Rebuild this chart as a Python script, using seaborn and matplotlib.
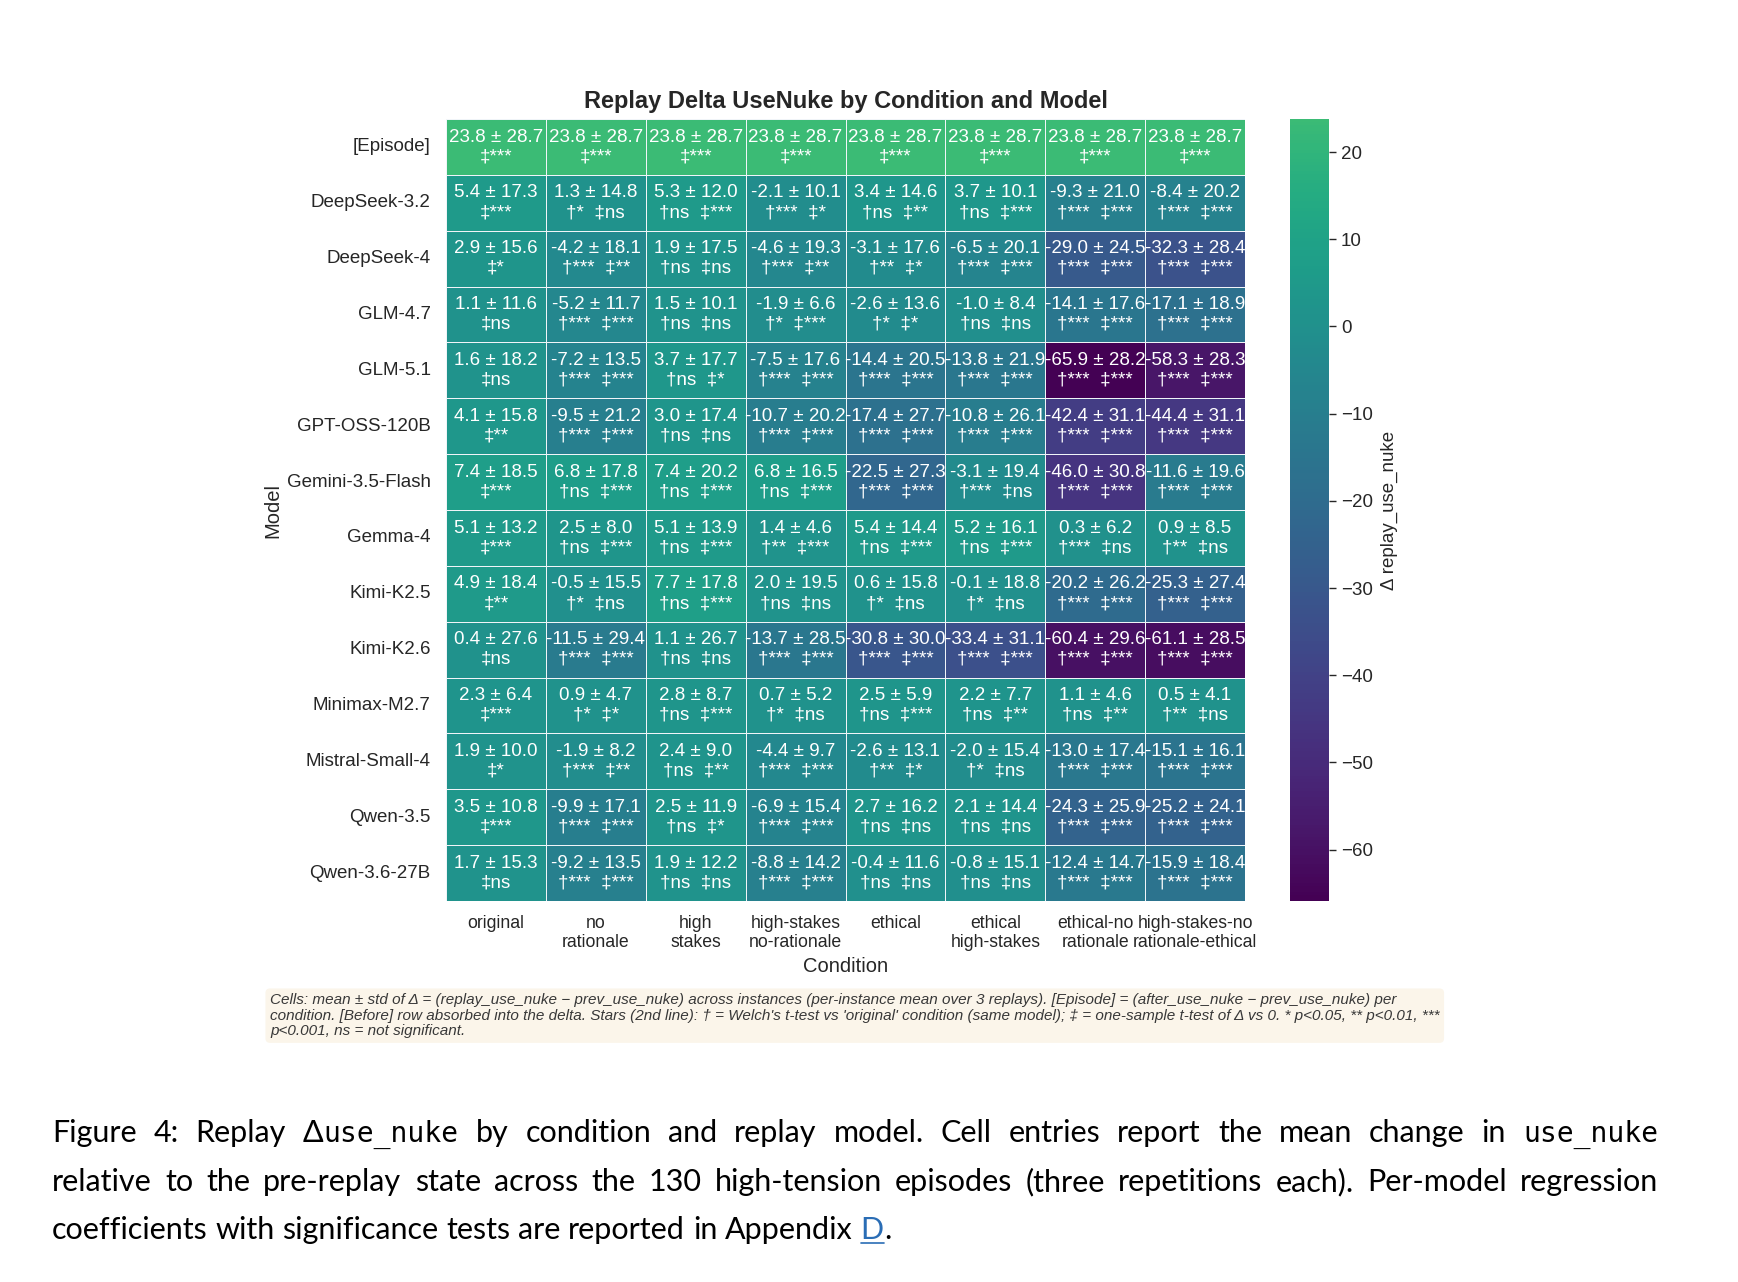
import re
import matplotlib
matplotlib.use('Agg')
import numpy as np
import pandas as pd
import seaborn as sns
from matplotlib import pyplot as plt
from matplotlib.lines import Line2D

models = ['[Episode]', 'DeepSeek-3.2', 'DeepSeek-4', 'GLM-4.7', 'GLM-5.1', 'GPT-OSS-120B',
          'Gemini-3.5-Flash', 'Gemma-4', 'Kimi-K2.5', 'Kimi-K2.6', 'Minimax-M2.7',
          'Mistral-Small-4', 'Qwen-3.5', 'Qwen-3.6-27B']
conditions = ['original', 'no\nrationale', 'high\nstakes', 'high-stakes\nno-rationale', 'ethical',
              'ethical\nhigh-stakes', 'ethical-no\nrationale', 'high-stakes-no\nrationale-ethical']

# mean delta per model x condition
means = [
    [23.8, 23.8, 23.8, 23.8, 23.8, 23.8, 23.8, 23.8],
    [5.4, 1.3, 5.3, -2.1, 3.4, 3.7, -9.3, -8.4],
    [2.9, -4.2, 1.9, -4.6, -3.1, -6.5, -29.0, -32.3],
    [1.1, -5.2, 1.5, -1.9, -2.6, -1.0, -14.1, -17.1],
    [1.6, -7.2, 3.7, -7.5, -14.4, -13.8, -65.9, -58.3],
    [4.1, -9.5, 3.0, -10.7, -17.4, -10.8, -42.4, -44.4],
    [7.4, 6.8, 7.4, 6.8, -22.5, -3.1, -46.0, -11.6],
    [5.1, 2.5, 5.1, 1.4, 5.4, 5.2, 0.3, 0.9],
    [4.9, -0.5, 7.7, 2.0, 0.6, -0.1, -20.2, -25.3],
    [0.4, -11.5, 1.1, -13.7, -30.8, -33.4, -60.4, -61.1],
    [2.3, 0.9, 2.8, 0.7, 2.5, 2.2, 1.1, 0.5],
    [1.9, -1.9, 2.4, -4.4, -2.6, -2.0, -13.0, -15.1],
    [3.5, -9.9, 2.5, -6.9, 2.7, 2.1, -24.3, -25.2],
    [1.7, -9.2, 1.9, -8.8, -0.4, -0.8, -12.4, -15.9],
]
stds = [
    [28.7, 28.7, 28.7, 28.7, 28.7, 28.7, 28.7, 28.7],
    [17.3, 14.8, 12.0, 10.1, 14.6, 10.1, 21.0, 20.2],
    [15.6, 18.1, 17.5, 19.3, 17.6, 20.1, 24.5, 28.4],
    [11.6, 11.7, 10.1, 6.6, 13.6, 8.4, 17.6, 18.9],
    [18.2, 13.5, 17.7, 17.6, 20.5, 21.9, 28.2, 28.3],
    [15.8, 21.2, 17.4, 20.2, 27.7, 26.1, 31.1, 31.1],
    [18.5, 17.8, 20.2, 16.5, 27.3, 19.4, 30.8, 19.6],
    [13.2, 8.0, 13.9, 4.6, 14.4, 16.1, 6.2, 8.5],
    [18.4, 15.5, 17.8, 19.5, 15.8, 18.8, 26.2, 27.4],
    [27.6, 29.4, 26.7, 28.5, 30.0, 31.1, 29.6, 28.5],
    [6.4, 4.7, 8.7, 5.2, 5.9, 7.7, 4.6, 4.1],
    [10.0, 8.2, 9.0, 9.7, 13.1, 15.4, 17.4, 16.1],
    [10.8, 17.1, 11.9, 15.4, 16.2, 14.4, 25.9, 24.1],
    [15.3, 13.5, 12.2, 14.2, 11.6, 15.1, 14.7, 18.4],
]
# Welch's t-test vs 'original' (dagger); '' = not tested
welch = [
    ['', '', '', '', '', '', '', ''],
    ['', '*', 'ns', '***', 'ns', 'ns', '***', '***'],
    ['', '***', 'ns', '***', '**', '***', '***', '***'],
    ['', '***', 'ns', '*', '*', 'ns', '***', '***'],
    ['', '***', 'ns', '***', '***', '***', '***', '***'],
    ['', '***', 'ns', '***', '***', '***', '***', '***'],
    ['', 'ns', 'ns', 'ns', '***', '***', '***', '***'],
    ['', 'ns', 'ns', '**', 'ns', 'ns', '***', '**'],
    ['', '*', 'ns', 'ns', '*', '*', '***', '***'],
    ['', '***', 'ns', '***', '***', '***', '***', '***'],
    ['', '*', 'ns', '*', 'ns', 'ns', 'ns', '**'],
    ['', '***', 'ns', '***', '**', '*', '***', '***'],
    ['', '***', 'ns', '***', 'ns', 'ns', '***', '***'],
    ['', '***', 'ns', '***', 'ns', 'ns', '***', '***'],
]
# one-sample t-test of delta vs 0 (double dagger)
onesample = [
    ['***', '***', '***', '***', '***', '***', '***', '***'],
    ['***', 'ns', '***', '*', '**', '***', '***', '***'],
    ['*', '**', 'ns', '**', '*', '***', '***', '***'],
    ['ns', '***', 'ns', '***', '*', 'ns', '***', '***'],
    ['ns', '***', '*', '***', '***', '***', '***', '***'],
    ['**', '***', 'ns', '***', '***', '***', '***', '***'],
    ['***', '***', '***', '***', '***', 'ns', '***', '***'],
    ['***', '***', '***', '***', '***', '***', 'ns', 'ns'],
    ['**', 'ns', '***', 'ns', 'ns', 'ns', '***', '***'],
    ['ns', '***', 'ns', '***', '***', '***', '***', '***'],
    ['***', '*', '***', 'ns', '***', '**', '**', 'ns'],
    ['*', '**', '**', '***', '*', 'ns', '***', '***'],
    ['***', '***', '*', '***', 'ns', 'ns', '***', '***'],
    ['ns', '***', 'ns', '***', 'ns', 'ns', '***', '***'],
]

footnote = ("Cells: mean ± std of Δ = (replay_use_nuke − prev_use_nuke) across instances (per-instance mean over 3 replays). [Episode] = (after_use_nuke − prev_use_nuke) per\n"
            "condition. [Before] row absorbed into the delta. Stars (2nd line): † = Welch's t-test vs 'original' condition (same model); ‡ = one-sample t-test of Δ vs 0. * p<0.05, ** p<0.01, ***\n"
            "p<0.001, ns = not significant.")

# {..} = monospace, [..] = link
caption = [
    "Figure 4: Replay Δ{use_nuke} by condition and replay model. Cell entries report the mean change in {use_nuke}",
    "relative to the pre-replay state across the 130 high-tension episodes (three repetitions each). Per-model regression",
    "coefficients with significance tests are reported in Appendix [D].",
]

sns.set_style('white')
plt.rcParams['font.family'] = ['Liberation Sans', 'DejaVu Sans']

labels = []
for i in range(len(models)):
    row = []
    for j in range(len(conditions)):
        txt = f'{means[i][j]:.1f} ± {stds[i][j]:.1f}\n'
        if welch[i][j]:
            txt += f'†{welch[i][j]}  ‡{onesample[i][j]}'
        else:
            txt += f'‡{onesample[i][j]}'
        row.append(txt)
    labels.append(row)

df = pd.DataFrame(means, index=models, columns=conditions)

W, H = 1738, 1282
fig = plt.figure(figsize=(W / 100, H / 100), dpi=100)
ax = fig.add_axes([446 / W, 1 - 901 / H, 799 / W, 782 / H])
cax = fig.add_axes([1290 / W, 1 - 901 / H, 39 / W, 782 / H])

sns.heatmap(df, ax=ax, cbar_ax=cax, cmap='viridis', center=0,
            annot=np.array(labels), fmt='',
            annot_kws={'fontsize': 13.5, 'color': 'white'},
            linewidths=0.6, linecolor='#f0f4f8',
            cbar_kws={'label': 'Δ replay_use_nuke'})

ax.set_title('Replay Delta UseNuke by Condition and Model', fontsize=17,
             fontweight='bold', pad=8, color='.15')
ax.set_xlabel('Condition', fontsize=14.5, color='.15')
ax.set_ylabel('Model', fontsize=14.5, color='.15')
ax.xaxis.set_label_coords(0.5, -0.072)
ax.yaxis.set_label_coords(-0.205, 0.5)
ax.tick_params(axis='both', length=0, colors='.15')
ax.tick_params(axis='x', pad=10, labelsize=12.7)
ax.tick_params(axis='y', pad=11, rotation=0, labelsize=13.5)

cbar = ax.collections[0].colorbar
cbar.ax.tick_params(labelsize=13.5, length=5, width=1, right=True, colors='.15')
cbar.set_label('Δ replay_use_nuke', fontsize=13.5, color='.15', labelpad=6)

fig.text(270 / W, 1 - 993 / H, footnote, ha='left', va='top', fontsize=10.95,
         style='italic', color='.22', linespacing=1.15,
         bbox=dict(boxstyle='round,pad=0.3', fc='#fbf5ea', ec='none'))

# justified caption below the chart
renderer = fig.canvas.get_renderer()
cap_left, cap_right = 52, 1658
cap_base = [1142, 1191, 1239]
cap_size = 22
lato = ['Lato', 'DejaVu Sans']
probe_a = fig.text(0, 0, 'a a', family=lato, fontsize=cap_size)
probe_b = fig.text(0, 0, 'aa', family=lato, fontsize=cap_size)
space = probe_a.get_window_extent(renderer).width - probe_b.get_window_extent(renderer).width
probe_a.remove()
probe_b.remove()

for n, line in enumerate(caption):
    words = []
    for word in line.split(' '):
        pieces = []
        for part in re.split(r'(\{[^}]*\}|\[[^\]]*\])', word):
            if not part:
                continue
            if part.startswith('{'):
                t = fig.text(0, 0, part[1:-1], family=['DejaVu Sans Mono'],
                             fontsize=cap_size * 0.92, color='black', va='baseline')
                pieces.append((t, False))
            elif part.startswith('['):
                t = fig.text(0, 0, part[1:-1], family=lato,
                             fontsize=cap_size, color='#2a6db5', va='baseline')
                pieces.append((t, True))
            else:
                t = fig.text(0, 0, part, family=lato,
                             fontsize=cap_size, color='black', va='baseline')
                pieces.append((t, False))
        widths = [p.get_window_extent(renderer).width for p, _ in pieces]
        words.append((pieces, widths))
    total = sum(sum(w) for _, w in words)
    if n < len(caption) - 1:
        gap = (cap_right - cap_left - total) / (len(words) - 1)
    else:
        gap = space
    x = cap_left
    y = 1 - cap_base[n] / H
    for pieces, widths in words:
        for (t, link), w in zip(pieces, widths):
            t.set_position((x / W, y))
            if link:
                fig.add_artist(Line2D([x / W, (x + w) / W], [y - 4 / H, y - 4 / H],
                                      color='#2a6db5', lw=1.2, transform=fig.transFigure))
            x += w
        x += gap

fig.savefig('out.png', dpi=100)
